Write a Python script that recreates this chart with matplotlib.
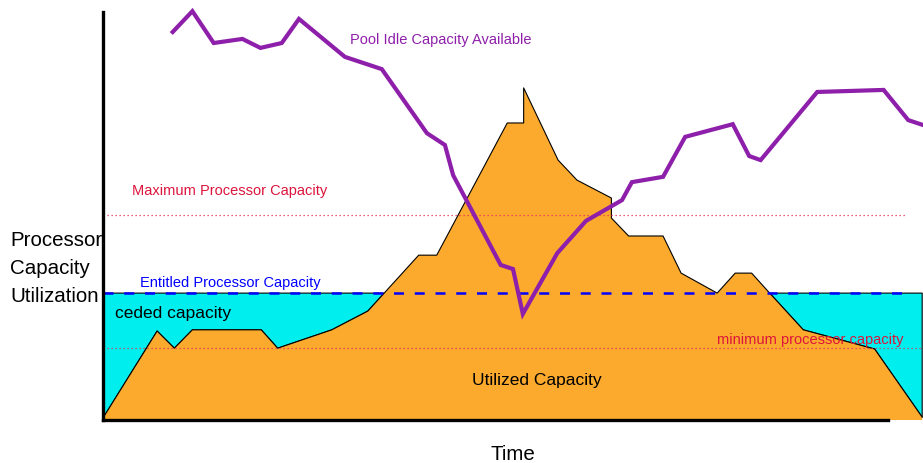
import matplotlib
matplotlib.use("Agg")
import matplotlib.pyplot as plt
import numpy as np

plt.rcParams['font.family'] = ['Liberation Sans', 'DejaVu Sans']

# ---- data (time 0..100, utilization 0..100) ----
util_time = [0, 6.6, 8.7, 10.9, 19.3, 21.3, 27.9, 32.3, 38.5, 40.7, 49.3, 51.3, 51.3,
             55.5, 57.8, 62.0, 62.0, 64.1, 68.3, 70.5, 74.9, 77.1, 79.1, 81.3, 85.4, 94.1, 99.9]
util_vals = [0.5, 21.8, 17.6, 22.1, 22.1, 17.6, 22.1, 26.7, 40.4, 40.4, 72.8, 72.8, 81.4,
             63.7, 58.8, 54.4, 49.5, 45.1, 45.1, 36.0, 31.1, 36.0, 36.0, 31.1, 22.1, 17.4, 0.7]

pool_time = [8.5, 10.9, 13.5, 17.0, 19.2, 21.8, 23.9, 29.5, 34.0, 39.5, 41.7, 42.7, 48.5,
             50.0, 51.2, 55.4, 58.9, 63.3, 64.5, 68.3, 71.0, 76.8, 78.8, 80.2, 87.1, 95.2, 98.2, 100.0]
pool_vals = [95.1, 100.2, 92.4, 93.4, 91.2, 92.4, 98.3, 89.0, 86.0, 70.3, 67.4, 60.0, 38.0,
             37.0, 26.0, 40.9, 48.8, 53.9, 58.3, 59.6, 69.4, 72.5, 64.7, 63.7, 80.4, 80.9, 73.5, 72.3]

entitled = 31.1
maximum = 50.2
minimum = 17.6

ORANGE = '#FCAA2E'
CYAN = '#00EEEE'
PURPLE = '#8E1FAA'
CRIMSON = '#DC143C'

fig = plt.figure(figsize=(9.23, 4.63), dpi=100)
ax = fig.add_axes([103/923, 43/463, 820/923, 408/463])
ax.set_xlim(0, 100)
ax.set_ylim(0, 100)

ut = np.array(util_time)
uv = np.array(util_vals)

# ceded capacity (cyan)
ax.fill_between(ut, uv, entitled, where=uv <= entitled + 1e-9, interpolate=True,
                facecolor=CYAN, edgecolor='black', linewidth=0.8, zorder=1)
# utilized capacity (orange)
ax.fill_between(ut, 0, uv, facecolor=ORANGE, edgecolor='none', zorder=2)
ax.plot(ut, uv, color='black', linewidth=0.8, zorder=2.1)

# reference lines
ax.plot([0, 97.9], [maximum, maximum], color='#E8305A', linewidth=0.9,
        linestyle=(0, (1, 2.2)), zorder=3)
ax.plot([0, 100], [minimum, minimum], color='#E8305A', linewidth=0.9,
        linestyle=(0, (1, 2.2)), zorder=3)
ax.plot([0, 97.9], [entitled, entitled], color='#0000FF', linewidth=1.8,
        linestyle=(0, (4.0, 4.3)), zorder=3)

# pool idle capacity
ax.plot(pool_time, pool_vals, color=PURPLE, linewidth=3.0, solid_joinstyle='miter',
        zorder=4, clip_on=False)

# spines
for s in ['top', 'right']:
    ax.spines[s].set_visible(False)
ax.spines['left'].set_linewidth(2.4)
ax.spines['bottom'].set_linewidth(2.4)
ax.spines['bottom'].set_bounds(0, 95.7)
ax.spines['left'].set_zorder(5)
ax.spines['bottom'].set_zorder(5)
ax.set_xticks([])
ax.set_yticks([])

# labels inside
ax.text(30.1, 93.1, 'Pool Idle Capacity Available', color=PURPLE, fontsize=10.5,
        va='center', ha='left', zorder=6)
ax.text(3.5, 56.1, 'Maximum Processor Capacity', color=CRIMSON, fontsize=10.5,
        va='center', ha='left', zorder=6)
ax.text(4.5, 33.6, 'Entitled Processor Capacity', color='#0000FF', fontsize=10.5,
        va='center', ha='left', zorder=6)
ax.text(74.9, 19.6, 'minimum processor capacity', color=CRIMSON, fontsize=10.5,
        va='center', ha='left', zorder=6)
ax.text(1.5, 26.0, 'ceded capacity', color='black', fontsize=12.5,
        va='center', ha='left', zorder=6)
ax.text(45.0, 9.8, 'Utilized Capacity', color='black', fontsize=12.5,
        va='center', ha='left', zorder=6)

# axis titles
for txt, ypx in [('Processor', 240), ('Capacity', 268), ('Utilization', 296)]:
    fig.text(10/923, 1 - ypx/463, txt, fontsize=14.8, va='center', ha='left', zorder=0)
fig.text(513/923, 1 - 455/463, 'Time', fontsize=14.8, va='center', ha='center')

fig.savefig('out.png', dpi=100)
